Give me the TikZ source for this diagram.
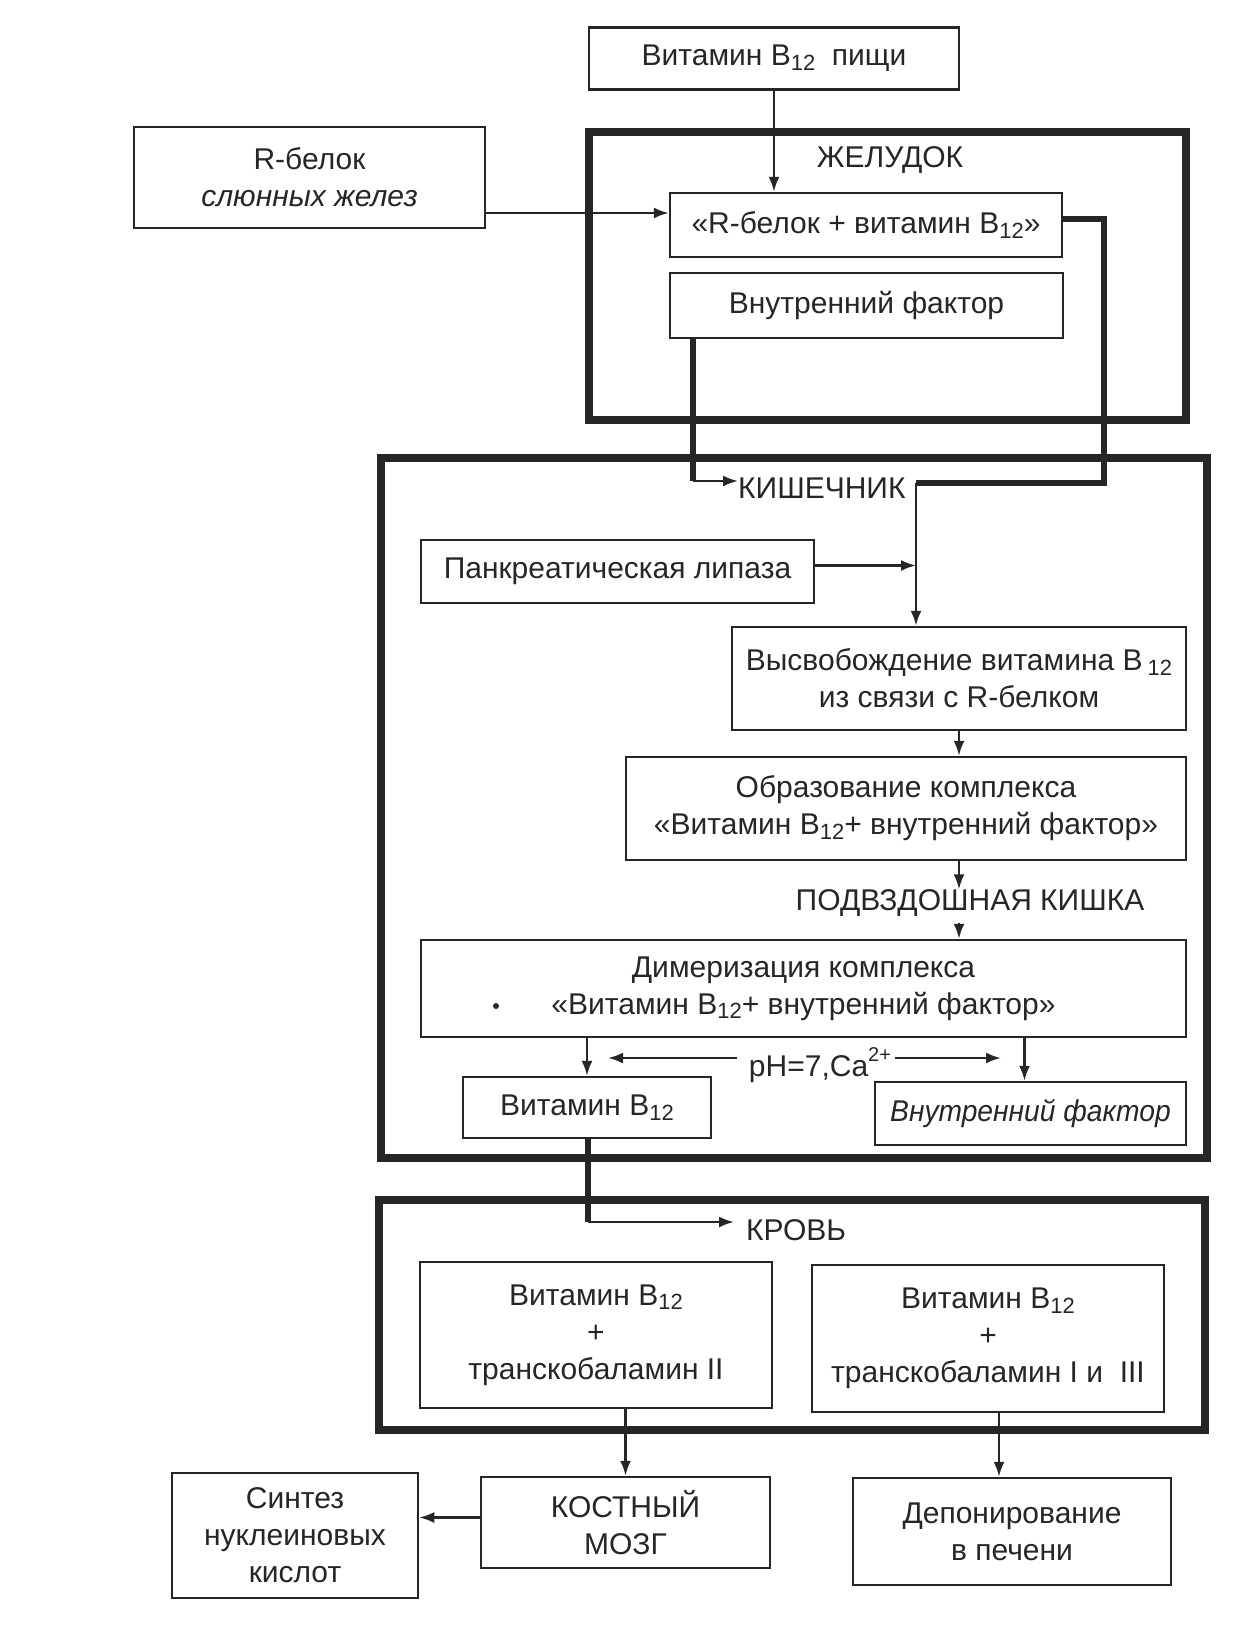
\documentclass[tikz,border=0pt]{standalone}
\usepackage{fontspec}
\setmainfont{Liberation Sans}
\usetikzlibrary{arrows.meta,calc}
\definecolor{ink}{RGB}{38,38,38}
\newcommand\Bsub[1]{\raisebox{-0.28ex}{\fontsize{22}{22}\selectfont #1}}
\newcommand\Bsup[1]{\raisebox{0.95ex}{\fontsize{20}{20}\selectfont #1}}
\begin{document}
\begin{tikzpicture}[x=1pt,y=-1pt,
  every node/.style={font=\fontsize{30}{37}\selectfont, text=ink},
  box/.style={draw=ink, line width=2.5pt, inner sep=0pt, align=center},
  zone/.style={draw=ink, line width=8.5pt, inner sep=0pt},
  lbl/.style={inner sep=0pt},
  arr/.style={draw=ink, line width=2.3pt, -{Latex[length=15pt,width=11pt]}},
  thk/.style={draw=ink, line width=6pt},
]
\fill[white] (0,0) rectangle (1240,1630);
\useasboundingbox (0,0) rectangle (1240,1630);

% zones
\node[zone, minimum width=597pt, minimum height=288pt] (stom) at (887.5,276) {};
\node[zone, minimum width=826pt, minimum height=700pt] (intest) at (794,808) {};
\node[zone, minimum width=826pt, minimum height=230pt] (blood) at (792,1315) {};

% boxes
\node[box, minimum width=370pt, minimum height=62pt] (food) at (774,58.5) {Витамин B\Bsub{12}\ \ пищи};
\node[box, minimum width=351pt, minimum height=101pt] (rbel) at (309.5,177.5) {R-белок\\\textit{слюнных желез}};
\node[box, minimum width=392pt, minimum height=64pt] (rbvit) at (866,225) {«R-белок + витамин B\Bsub{12}»};
\node[box, minimum width=393pt, minimum height=65pt] (vf1) at (866.5,305.5) {Внутренний фактор};
\node[box, minimum width=393pt, minimum height=63pt] (panc) at (617.5,571.5) {Панкреатическая липаза};
\node[box, minimum width=454pt, minimum height=103pt] (vysv) at (959,678.5) {Высвобождение витамина B\,\Bsub{12}\\из связи с R-белком};
\node[box, minimum width=560pt, minimum height=103pt] (obraz) at (906,808.5) {Образование комплекса\\«Витамин B\Bsub{12}+ внутренний фактор»};
\node[box, minimum width=765pt, minimum height=97pt] (dimer) at (803.5,988.5) {Димеризация комплекса\\«Витамин B\Bsub{12}+ внутренний фактор»};
\node[box, minimum width=248pt, minimum height=61pt] (vitb) at (587,1107.5) {Витамин B\Bsub{12}};
\node[box, minimum width=311pt, minimum height=63pt] (vf2) at (1030.5,1113.5) {\itshape\addfontfeatures{FakeStretch=0.94}Внутренний фактор};
\node[box, minimum width=352pt, minimum height=146pt] (bl1) at (596,1335) {Витамин B\Bsub{12}\\+\\транскобаламин II};
\node[box, minimum width=352pt, minimum height=147pt] (bl2) at (988,1338.5) {Витамин B\Bsub{12}\\+\\транскобаламин I и\ \ III};
\node[box, minimum width=246pt, minimum height=125pt] (sint) at (295,1535.5) {Синтез\\нуклеиновых\\кислот};
\node[box, minimum width=289pt, minimum height=91pt] (kost) at (625.5,1522.5) {КОСТНЫЙ\\МОЗГ};
\node[box, minimum width=318pt, minimum height=107pt] (dep) at (1012,1531.5) {Депонирование\\в печени};

% labels
\node[lbl] (zhel) at (890,160) {ЖЕЛУДОК};
\node[lbl, anchor=west] (kish) at (738,488) {КИШЕЧНИК};
\node[lbl] (podv) at (970,903) {ПОДВЗДОШНАЯ КИШКА};
\node[lbl] (ph) at (820,1065) {pH=7,Ca\Bsup{2+}};
\node[lbl, anchor=west] (krov) at (746,1230) {КРОВЬ};

% stray dot
\fill[ink] (496,1006) circle (3pt);

% coordinates
\coordinate (rbin) at ($(rbvit.west)+(0,-12)$);
\coordinate (rbout) at ($(rbvit.east)+(0,-6)$);
\coordinate (c1) at (1104,483);
\coordinate (c2) at (916,483);
\coordinate (c3) at (693,481);
\coordinate (pe) at ($(panc.east)+(0,-6)$);
\coordinate (podvs) at ($(podv.south)+(0,6)$);
\coordinate (v2n) at ($(vf2.north)+(-6,0)$);
\coordinate (phl) at (608,1058);
\coordinate (phr) at (1001,1058);
\coordinate (phs) at ($(ph.west)+(-12,0)$);
\coordinate (phe) at ($(ph.east)+(4,0)$);
\coordinate (c4) at (588,1222);
\coordinate (kw) at ($(krov.west)+(-12,0)$);
\coordinate (dn) at ($(dep.north)+(-13,0)$);
\coordinate (kw2) at ($(kost.west)+(0,-5)$);

% connectors
\draw[arr] (food.south) -- (food.south |- rbvit.north);
\draw[arr] (rbel.east |- rbin) -- (rbin);
\draw[thk] (rbout) -| (c1) -- (c2);
\draw[arr] (c2) -- (c2 |- vysv.north);
\draw[thk] (vf1.south -| c3) -- (c3);
\draw[arr] (c3) -- (c3 -| kish.west);
\draw[arr] (pe) -- (pe -| c2);
\draw[arr] (vysv.south) -- (vysv.south |- obraz.north);
\draw[arr] (vysv.south |- obraz.south) -- (vysv.south |- podv.north);
\draw[arr] (vysv.south |- podvs) -- (vysv.south |- dimer.north);
\draw[arr] (vitb.north |- dimer.south) -- (vitb.north);
\draw[arr] (v2n |- dimer.south) -- (v2n);
\draw[arr] (phs |- phl) -- (phl);
\draw[arr] (phe |- phr) -- (phr);
\draw[thk] (vitb.south -| c4) -- (c4);
\draw[arr] (c4) -- (c4 -| kw);
\draw[arr] (kost.north |- bl1.south) -- (kost.north);
\draw[arr] (dn |- bl2.south) -- (dn);
\draw[arr] (kw2) -- (kw2 -| sint.east);
\end{tikzpicture}
\end{document}
